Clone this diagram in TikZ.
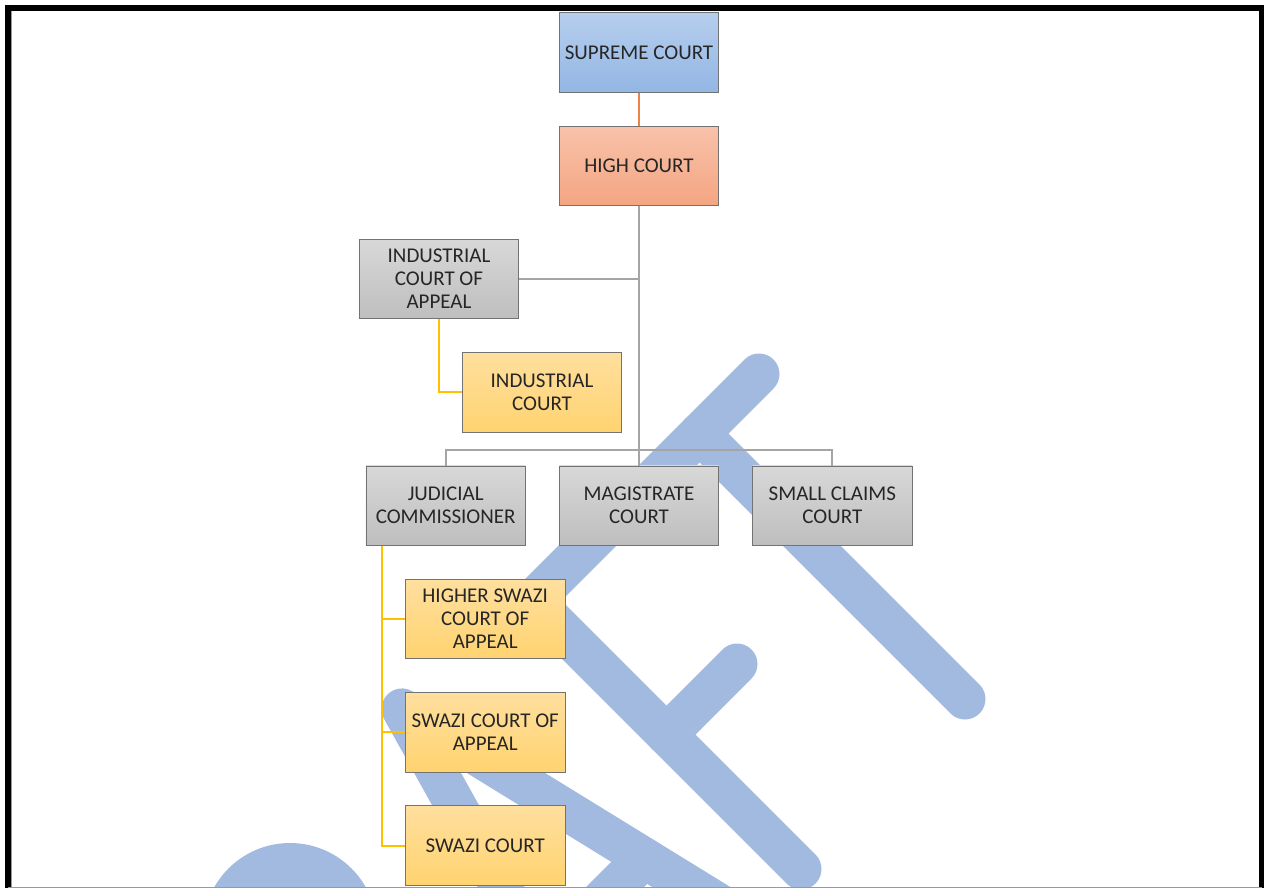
\documentclass[tikz,border=0pt]{standalone}
\usepackage{fontspec}
\setmainfont{Carlito}
\usepackage{xcolor}
\usetikzlibrary{positioning,calc}

\definecolor{draftblue}{RGB}{162,185,224}
\definecolor{bluetop}{RGB}{182,206,238}
\definecolor{bluebot}{RGB}{147,182,228}
\definecolor{redtop}{RGB}{248,194,170}
\definecolor{redbot}{RGB}{244,165,130}
\definecolor{greytop}{RGB}{216,216,216}
\definecolor{greybot}{RGB}{190,190,190}
\definecolor{yellowtop}{RGB}{255,223,158}
\definecolor{yellowbot}{RGB}{255,211,112}
\definecolor{linkgrey}{RGB}{165,165,165}
\definecolor{tieorange}{RGB}{240,130,70}
\definecolor{feedyellow}{RGB}{255,192,0}

\begin{document}
\begin{tikzpicture}[
    x=1pt, y=-1pt,
    node distance = 33pt and 33pt,
    court/.style   = {rectangle, draw=black!55, line width=0.8pt,
                      minimum width=159.5pt, minimum height=79.5pt, inner sep=2pt,
                      align=center, text=black!85,
                      font=\fontsize{21}{23}\selectfont},
    apex/.style    = {court, top color=bluetop, bottom color=bluebot},
    appeal/.style  = {court, top color=redtop, bottom color=redbot},
    lower/.style   = {court, top color=greytop, bottom color=greybot},
    local/.style   = {court, top color=yellowtop, bottom color=yellowbot},
    link/.style    = {line width=2pt, draw=linkgrey},
    tie/.style     = {line width=2.5pt, draw=tieorange},
    feed/.style    = {line width=2pt, draw=feedyellow},
    draftstroke/.style = {line width=41pt, draw=draftblue,
                          line cap=round, line join=round},
]
\useasboundingbox (0,0) rectangle (1264,888);

\begin{scope}
\clip (0,0) rectangle (1264,887);
\draw[draftstroke] (759,374) -- (532.5,600.5) -- (801,869);
\draw[draftstroke] (699.5,433.5) -- (965,699);
\draw[draftstroke] (666.5,734.5) -- (737,664);
\draw[draftstroke] (510,903) -- (402,709) -- (740,917);
\draw[draftstroke] (540,962) -- (644,858);
\fill[draftblue] (290,930) circle (87);
\end{scope}

\node[apex]   (supreme) at (639,52.5) {SUPREME COURT};
\node[appeal, below=of supreme] (high) {HIGH COURT};
\node[lower,  below=of high, xshift=-200pt] (ica) {INDUSTRIAL\\COURT OF\\APPEAL};
\node[local,  below=of ica, xshift=103pt]   (ic)  {INDUSTRIAL\\COURT};
\node[lower,  below=of ic, xshift=97pt]     (mc)  {MAGISTRATE\\COURT};
\node[lower,  left=of mc]                   (jc)  {JUDICIAL\\COMMISSIONER};
\node[lower,  right=of mc]                  (scc) {SMALL CLAIMS\\COURT};
\node[local,  below=of jc, xshift=39.5pt]   (hsca) {HIGHER SWAZI\\COURT OF\\APPEAL};
\node[local,  below=of hsca]                (sca) {SWAZI COURT OF\\APPEAL};
\node[local,  below=of sca]                 (sc)  {SWAZI COURT};

\draw[tie]  (supreme) -- (high);
\draw[link] (high) -- (mc);
\draw[link] (ica.east) -- (ica.east -| high.south);
\draw[link] (jc.north) -- ++(0,-16) -| (scc.north);
\draw[feed] (ica.south) |- (ic.west);
\draw[feed] ([xshift=16pt]jc.south west) |- (hsca.west);
\draw[feed] ([xshift=16pt]jc.south west) |- (sca.west);
\draw[feed] ([xshift=16pt]jc.south west) |- (sc.west);

\draw[line width=1pt, black!40] (11,888) -- (11,11) -- (1258,11);
\draw[line width=5.5pt] (8,888) -- (8,8) -- (1261.5,8) -- (1261.5,888);
\draw[line width=1.2pt, black!40] (8,887.4) -- (1261.5,887.4);
\end{tikzpicture}
\end{document}
